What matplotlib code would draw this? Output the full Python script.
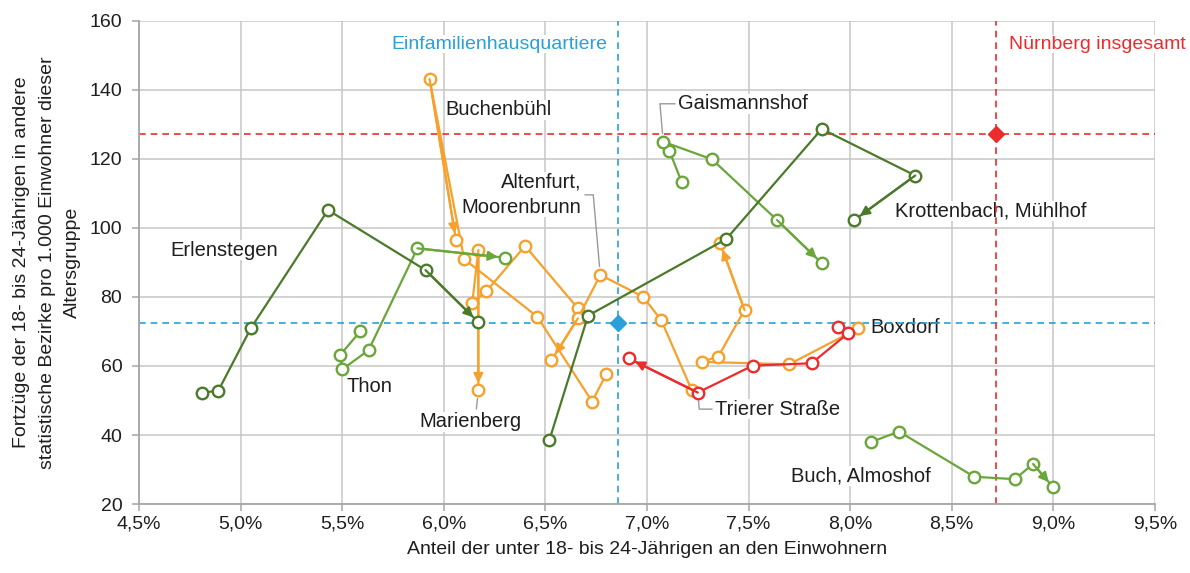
import matplotlib
matplotlib.use("Agg")
import matplotlib.pyplot as plt

plt.rcParams['font.family'] = ['Liberation Sans', 'DejaVu Sans']

# values (x in %, y per 1.000 inhabitants)
erlenstegen_x = [4.81, 4.89, 5.05, 5.43, 5.91, 6.17]
erlenstegen_y = [52.3, 52.8, 70.9, 105.2, 87.8, 72.7]
krottenbach_x = [6.52, 6.71, 7.39, 7.86, 8.32, 8.02]
krottenbach_y = [38.6, 74.6, 96.8, 128.7, 115.2, 102.3]
thon_x = [5.59, 5.49, 5.50, 5.63, 5.87, 6.30]
thon_y = [70.1, 63.2, 59.0, 64.6, 94.1, 91.4]
gaismannshof_x = [7.17, 7.11, 7.08, 7.32, 7.64, 7.86]
gaismannshof_y = [113.4, 122.4, 125.0, 119.9, 102.3, 89.8]
buch_x = [8.10, 8.24, 8.61, 8.81, 8.90, 9.00]
buch_y = [37.9, 41.0, 27.9, 27.2, 31.6, 24.8]
buchenbuehl_x = [6.80, 6.73, 6.46, 6.10, 5.93, 6.06]
buchenbuehl_y = [57.7, 49.7, 74.3, 91.0, 143.2, 96.5]
marienberg_x = [6.66, 6.40, 6.21, 6.14, 6.17, 6.17]
marienberg_y = [76.7, 94.8, 81.7, 78.2, 93.6, 53.0]
altenfurt_x = [7.22, 7.07, 6.98, 6.77, 6.66, 6.53]
altenfurt_y = [53.0, 73.3, 80.1, 86.4, 73.8, 61.7]
boxdorf_x = [8.04, 7.70, 7.27, 7.35, 7.48, 7.36]
boxdorf_y = [70.9, 60.5, 61.2, 62.7, 76.2, 95.6]
trierer_x = [7.94, 7.99, 7.81, 7.52, 7.25, 6.91]
trierer_y = [71.2, 69.5, 60.8, 60.1, 52.3, 62.2]

efh_ref = (6.856, 72.4)
nbg_ref = (8.717, 127.2)

x_ticks = [4.5, 5.0, 5.5, 6.0, 6.5, 7.0, 7.5, 8.0, 8.5, 9.0, 9.5]
x_tick_labels = ['4,5%', '5,0%', '5,5%', '6,0%', '6,5%', '7,0%', '7,5%', '8,0%', '8,5%', '9,0%', '9,5%']
y_ticks = [20, 40, 60, 80, 100, 120, 140, 160]

DARK = '#4b7a2a'
LIGHT = '#6aa63a'
ORANGE = '#f7a12c'
RED = '#ee2b2b'
BLUE = '#2a9fd8'
GRID = '#c6c6c6'
TXT = '#1e1e1e'


def draw_path(ax, xs, ys, color, z):
    ax.plot(xs, ys, color=color, lw=1.6, marker='o', ms=8.3, mew=1.7,
            mfc='white', mec=color, zorder=z)
    ax.annotate('', xy=(xs[-1], ys[-1]), xytext=(xs[-2], ys[-2]),
                arrowprops=dict(arrowstyle='-|>', color=color, lw=1.6,
                                shrinkA=0, shrinkB=5, mutation_scale=14),
                zorder=z)


fig = plt.figure(figsize=(11.9, 5.73), dpi=100)
ax = fig.add_axes([0.1168, 0.1204, 0.8538, 0.843])
ax.set_xlim(4.5, 9.5)
ax.set_ylim(20, 160)
ax.set_xticks(x_ticks)
ax.set_xticklabels(x_tick_labels)
ax.set_yticks(y_ticks)
ax.grid(True, color=GRID, lw=1.1)
ax.set_axisbelow(True)
for side in ['top', 'right']:
    ax.spines[side].set_visible(False)
for side in ['left', 'bottom']:
    ax.spines[side].set_color('#a6a6a6')
    ax.spines[side].set_linewidth(1.3)
ax.tick_params(labelsize=14, colors='#a6a6a6', labelcolor=TXT, length=5, width=1.1)
ax.tick_params(axis='y', pad=7)

# reference lines
ax.axvline(efh_ref[0], color=BLUE, ls=(0, (4, 3)), lw=1.2, zorder=1.8)
ax.axhline(efh_ref[1], color=BLUE, ls=(0, (4, 3)), lw=1.2, zorder=1.8)
ax.axvline(nbg_ref[0], color=RED, ls=(0, (4, 3)), lw=1.2, zorder=1.8)
ax.axhline(nbg_ref[1], color=RED, ls=(0, (4, 3)), lw=1.2, zorder=1.8)
ax.plot(*efh_ref, marker='D', ms=8, color=BLUE, zorder=6)
ax.plot(*nbg_ref, marker='D', ms=8, color=RED, zorder=6)

draw_path(ax, buchenbuehl_x, buchenbuehl_y, ORANGE, 3)
draw_path(ax, marienberg_x, marienberg_y, ORANGE, 3)
draw_path(ax, altenfurt_x, altenfurt_y, ORANGE, 3)
draw_path(ax, boxdorf_x, boxdorf_y, ORANGE, 3)
draw_path(ax, trierer_x, trierer_y, RED, 4)
draw_path(ax, thon_x, thon_y, LIGHT, 5)
draw_path(ax, gaismannshof_x, gaismannshof_y, LIGHT, 5)
draw_path(ax, buch_x, buch_y, LIGHT, 5)
draw_path(ax, erlenstegen_x, erlenstegen_y, DARK, 5)
draw_path(ax, krottenbach_x, krottenbach_y, DARK, 5)

box = dict(fc='white', ec='none', pad=0.5)
lab = dict(fontsize=14.5, color=TXT, va='center', zorder=1.5, bbox=box)
ax.text(6.009, 134.2, 'Buchenbühl', **lab)
ax.text(4.652, 93.6, 'Erlenstegen', **lab)
ax.text(5.523, 54.2, 'Thon', **lab)
ax.text(8.222, 104.9, 'Krottenbach, Mühlhof', **lab)
ax.text(8.099, 71.3, 'Boxdorf', **lab)
ax.text(7.71, 28.1, 'Buch, Almoshof', **lab)

lead = dict(arrowstyle='-', color='#9a9a9a', lw=1.0, shrinkA=2, shrinkB=6)
ax.annotate('Marienberg', xy=(marienberg_x[-1], marienberg_y[-1]), xytext=(5.882, 43.8),
            arrowprops=dict(lead, relpos=(0.55, 1.0)), **lab)
ax.annotate('Altenfurt,\nMoorenbrunn', xy=(altenfurt_x[3], altenfurt_y[3]), xytext=(6.678, 109.6),
            ha='right', linespacing=1.4,
            arrowprops=dict(lead, relpos=(1.0, 0.5),
                            connectionstyle='angle,angleA=0,angleB=95,rad=0'), **lab)
ax.annotate('Gaismannshof', xy=(gaismannshof_x[2], gaismannshof_y[2]), xytext=(7.155, 136.0),
            arrowprops=dict(lead, relpos=(0.0, 0.5),
                            connectionstyle='angle,angleA=180,angleB=95,rad=0'), **lab)
ax.annotate('Trierer Straße', xy=(trierer_x[4], trierer_y[4]), xytext=(7.337, 47.5),
            arrowprops=dict(lead, relpos=(0.0, 0.5),
                            connectionstyle='angle,angleA=180,angleB=-85,rad=0'), **lab)

ax.text(5.744, 153.3, 'Einfamilienhausquartiere', fontsize=14, color=BLUE, va='center',
        zorder=1.5, bbox=dict(fc='white', ec='none', pad=0.3))
ax.text(8.782, 153.3, 'Nürnberg insgesamt', fontsize=14, color=RED, va='center',
        zorder=1.5, bbox=dict(fc='white', ec='none', pad=0.3))

ax.set_xlabel('Anteil der unter 18- bis 24-Jährigen an den Einwohnern', fontsize=14, color=TXT, labelpad=6)
ax.set_ylabel('Fortzüge der 18- bis 24-Jährigen in andere\nstatistische Bezirke pro 1.000 Einwohner dieser\nAltersgruppe',
              fontsize=14, color=TXT, labelpad=6, linespacing=1.65)

fig.savefig('out.png', dpi=100)
